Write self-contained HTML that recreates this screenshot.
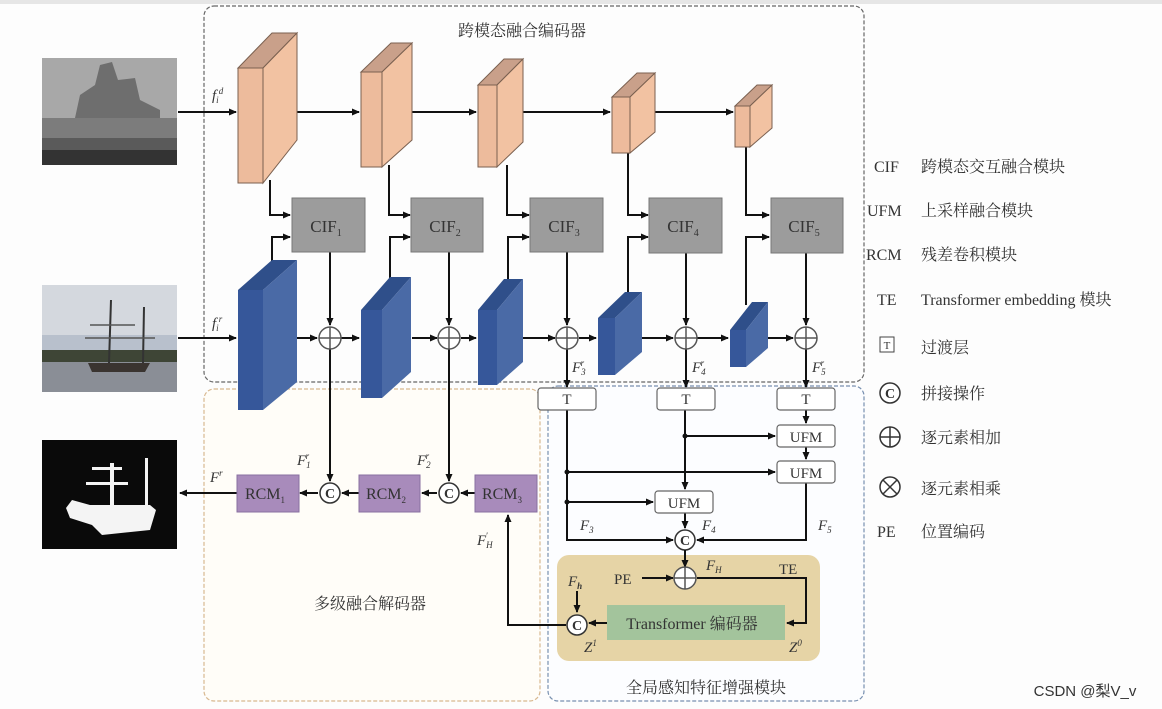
<!DOCTYPE html>
<html><head><meta charset="utf-8"><style>
html,body{margin:0;padding:0;background:#fdfdfd;}
svg{display:block;}
text{font-family:"Liberation Serif","Noto Serif CJK SC",serif;fill:#333;}
.cj{font-family:"Liberation Serif","Noto Serif CJK SC","Noto Sans CJK SC",serif;}
.it{font-style:italic;}
</style></head><body>
<svg width="1162" height="709" viewBox="0 0 1162 709" xmlns="http://www.w3.org/2000/svg">
<defs>
<marker id="a" markerWidth="8" markerHeight="8" refX="7" refY="4" orient="auto" markerUnits="userSpaceOnUse"><path d="M0,0.5 L8,4 L0,7.5 z" fill="#111"/></marker>
</defs>
<rect x="0" y="0" width="1162" height="4" fill="#e6e6e6"/>
<rect x="204" y="6" width="660" height="376" rx="10" fill="none" stroke="#666" stroke-dasharray="4,2" stroke-width="1.2"/>
<rect x="204" y="389" width="336" height="312" rx="10" fill="#fffdf8" stroke="#d8b890" stroke-dasharray="4,2" stroke-width="1.2"/>
<rect x="548" y="386" width="316" height="315" rx="10" fill="#fcfdff" stroke="#7890b0" stroke-dasharray="4,2" stroke-width="1.2"/>
<text x="522" y="36" font-size="16" text-anchor="middle" class="cj">跨模态融合编码器</text>
<text x="370" y="609" font-size="16" text-anchor="middle" class="cj">多级融合解码器</text>
<text x="706" y="693" font-size="16" text-anchor="middle" class="cj">全局感知特征增强模块</text>

<rect x="42" y="58" width="135" height="107" fill="#8c8c8c"/>
<rect x="42" y="58" width="135" height="60" fill="#a8a8a8"/>
<path d="M75,118 L80,95 L95,85 L100,65 L112,62 L118,80 L135,78 L140,100 L160,110 L160,118 Z" fill="#6e6e6e"/>
<rect x="42" y="118" width="135" height="20" fill="#7c7c7c"/>
<rect x="42" y="138" width="135" height="12" fill="#5a5a5a"/>
<rect x="42" y="150" width="135" height="15" fill="#333"/>
<rect x="42" y="285" width="135" height="107" fill="#b8c0cc"/>
<rect x="42" y="285" width="135" height="50" fill="#d4d8de"/>
<rect x="42" y="350" width="135" height="12" fill="#3e4536"/>
<rect x="42" y="362" width="135" height="30" fill="#8a8e96"/>
<path d="M88,363 L150,363 L145,372 L92,372 Z" fill="#3a3430"/>
<line x1="111" y1="300" x2="109" y2="363" stroke="#333" stroke-width="2"/>
<line x1="144" y1="307" x2="143" y2="363" stroke="#333" stroke-width="2"/>
<line x1="90" y1="325" x2="135" y2="325" stroke="#555" stroke-width="1.5"/>
<line x1="85" y1="338" x2="155" y2="338" stroke="#555" stroke-width="1.5"/>
<rect x="42" y="440" width="135" height="109" fill="#0a0a0a"/>
<path d="M66,508 L72,500 L90,505 L150,505 L156,510 L150,530 L102,535 L92,525 L70,518 Z" fill="#f4f4f4"/>
<rect x="110" y="463" width="4" height="45" fill="#f4f4f4"/>
<rect x="145" y="458" width="3" height="48" fill="#f4f4f4"/>
<rect x="86" y="482" width="42" height="3" fill="#f4f4f4"/>
<rect x="92" y="467" width="30" height="3" fill="#f4f4f4"/>

<g stroke="#111" stroke-width="2" fill="none">
<line x1="178" y1="112" x2="236" y2="112" marker-end="url(#a)"/>
<line x1="297" y1="112" x2="359" y2="112" marker-end="url(#a)"/>
<line x1="412" y1="112" x2="476" y2="112" marker-end="url(#a)"/>
<line x1="523" y1="112" x2="610" y2="112" marker-end="url(#a)"/>
<line x1="655" y1="112" x2="733" y2="112" marker-end="url(#a)"/>
<line x1="178" y1="338" x2="236" y2="338" marker-end="url(#a)"/>
<line x1="297" y1="338" x2="317" y2="338" marker-end="url(#a)"/>
<line x1="341" y1="338" x2="359" y2="338" marker-end="url(#a)"/>
<line x1="412" y1="338" x2="437" y2="338" marker-end="url(#a)"/>
<line x1="461" y1="338" x2="476" y2="338" marker-end="url(#a)"/>
<line x1="523" y1="338" x2="555" y2="338" marker-end="url(#a)"/>
<line x1="579" y1="338" x2="596" y2="338" marker-end="url(#a)"/>
<line x1="642" y1="338" x2="673" y2="338" marker-end="url(#a)"/>
<line x1="697" y1="338" x2="728" y2="338" marker-end="url(#a)"/>
<line x1="768" y1="338" x2="793" y2="338" marker-end="url(#a)"/>
<path d="M270,180 V215 H290" marker-end="url(#a)"/><path d="M272,262 V237 H290" marker-end="url(#a)"/>
<path d="M389,165 V215 H410" marker-end="url(#a)"/><path d="M390,282 V237 H410" marker-end="url(#a)"/>
<path d="M507,165 V215 H529" marker-end="url(#a)"/><path d="M508,285 V237 H529" marker-end="url(#a)"/>
<path d="M628,153 V215 H648" marker-end="url(#a)"/><path d="M628,296 V237 H648" marker-end="url(#a)"/>
<path d="M746,147 V215 H769" marker-end="url(#a)"/><path d="M746,305 V237 H769" marker-end="url(#a)"/>
<line x1="330" y1="252" x2="330" y2="325" marker-end="url(#a)"/>
<line x1="449" y1="252" x2="449" y2="325" marker-end="url(#a)"/>
<line x1="567" y1="252" x2="567" y2="325" marker-end="url(#a)"/>
<line x1="686" y1="253" x2="686" y2="325" marker-end="url(#a)"/>
<line x1="806" y1="253" x2="806" y2="325" marker-end="url(#a)"/>
<line x1="330" y1="349" x2="330" y2="481" marker-end="url(#a)"/>
<line x1="449" y1="349" x2="449" y2="481" marker-end="url(#a)"/>
<line x1="567" y1="349" x2="567" y2="387" marker-end="url(#a)"/>
<line x1="686" y1="349" x2="686" y2="387" marker-end="url(#a)"/>
<line x1="806" y1="349" x2="806" y2="387" marker-end="url(#a)"/>
<line x1="475" y1="493" x2="461" y2="493" marker-end="url(#a)"/>
<line x1="437" y1="493" x2="422" y2="493" marker-end="url(#a)"/>
<line x1="359" y1="493" x2="342" y2="493" marker-end="url(#a)"/>
<line x1="318" y1="493" x2="300" y2="493" marker-end="url(#a)"/>
<line x1="237" y1="493" x2="180" y2="493" marker-end="url(#a)"/>
<path d="M567,410 V540 H673" marker-end="url(#a)"/>
<line x1="567" y1="472" x2="775" y2="472" marker-end="url(#a)"/>
<line x1="567" y1="502" x2="653" y2="502" marker-end="url(#a)"/>
<line x1="685" y1="410" x2="685" y2="489" marker-end="url(#a)"/>
<line x1="685" y1="436" x2="775" y2="436" marker-end="url(#a)"/>
<line x1="806" y1="410" x2="806" y2="423" marker-end="url(#a)"/>
<line x1="806" y1="447" x2="806" y2="459" marker-end="url(#a)"/>
<path d="M806,483 V540 H697" marker-end="url(#a)"/>
<line x1="685" y1="513" x2="685" y2="528" marker-end="url(#a)"/>
</g>
<circle cx="567" cy="472" r="2.5" fill="#111"/><circle cx="567" cy="502" r="2.5" fill="#111"/><circle cx="685" cy="436" r="2.5" fill="#111"/>

<g stroke="#7a6050" stroke-width="1">
<polygon points="238,68 263,68 297,33 272,33" fill="#c9a08a"/>
<polygon points="263,68 297,33 297,140 263,183" fill="#f2c2a2"/>
<rect x="238" y="68" width="25" height="115" fill="#edbb9c"/>
<polygon points="361,72 382,72 412,43 391,43" fill="#c9a08a"/>
<polygon points="382,72 412,43 412,140 382,167" fill="#f2c2a2"/>
<rect x="361" y="72" width="21" height="95" fill="#edbb9c"/>
<polygon points="478,85 497,85 523,59 504,59" fill="#c9a08a"/>
<polygon points="497,85 523,59 523,142 497,167" fill="#f2c2a2"/>
<rect x="478" y="85" width="19" height="82" fill="#edbb9c"/>
<polygon points="612,97 630,97 655,73 637,73" fill="#c9a08a"/>
<polygon points="630,97 655,73 655,132 630,153" fill="#f2c2a2"/>
<rect x="612" y="97" width="18" height="56" fill="#edbb9c"/>
<polygon points="735,106 750,106 772,85 757,85" fill="#c9a08a"/>
<polygon points="750,106 772,85 772,128 750,147" fill="#f2c2a2"/>
<rect x="735" y="106" width="15" height="41" fill="#edbb9c"/>
</g>
<g>
<polygon points="238,290 263,290 297,260 272,260" fill="#2f4f8a"/>
<polygon points="263,290 297,260 297,382 263,410" fill="#4a6aa6"/>
<rect x="238" y="290" width="25" height="120" fill="#36579a"/>
<polygon points="361,310 382,310 411,277 390,277" fill="#2f4f8a"/>
<polygon points="382,310 411,277 411,372 382,398" fill="#4a6aa6"/>
<rect x="361" y="310" width="21" height="88" fill="#36579a"/>
<polygon points="478,310 497,310 523,279 504,279" fill="#2f4f8a"/>
<polygon points="497,310 523,279 523,362 497,385" fill="#4a6aa6"/>
<rect x="478" y="310" width="19" height="75" fill="#36579a"/>
<polygon points="598,318 615,318 642,292 625,292" fill="#2f4f8a"/>
<polygon points="615,318 642,292 642,352 615,375" fill="#4a6aa6"/>
<rect x="598" y="318" width="17" height="57" fill="#36579a"/>
<polygon points="730,330 746,330 768,302 752,302" fill="#2f4f8a"/>
<polygon points="746,330 768,302 768,348 746,367" fill="#4a6aa6"/>
<rect x="730" y="330" width="16" height="37" fill="#36579a"/>
</g>

<g fill="#9c9c9c" stroke="#777">
<rect x="292" y="198" width="73" height="54"/>
<rect x="411" y="198" width="72" height="54"/>
<rect x="530" y="198" width="73" height="54"/>
<rect x="649" y="198" width="73" height="55"/>
<rect x="771" y="198" width="72" height="55"/>
</g>
<g font-size="17" text-anchor="middle">
<text x="326" y="232">CIF<tspan font-size="10" dy="4">1</tspan></text>
<text x="445" y="232">CIF<tspan font-size="10" dy="4">2</tspan></text>
<text x="564" y="232">CIF<tspan font-size="10" dy="4">3</tspan></text>
<text x="683" y="232">CIF<tspan font-size="10" dy="4">4</tspan></text>
<text x="804" y="232">CIF<tspan font-size="10" dy="4">5</tspan></text>
</g>

<g fill="#fff" stroke="#555" stroke-width="1.5">
<circle cx="330" cy="338" r="11"/><circle cx="449" cy="338" r="11"/><circle cx="567" cy="338" r="11"/><circle cx="686" cy="338" r="11"/><circle cx="806" cy="338" r="11"/>
</g>
<g stroke="#555" stroke-width="1.5">
<path d="M319,338 H341 M330,327 V349"/><path d="M438,338 H460 M449,327 V349"/><path d="M556,338 H578 M567,327 V349"/><path d="M675,338 H697 M686,327 V349"/><path d="M795,338 H817 M806,327 V349"/>
</g>

<g font-size="15" class="it">
<text x="212" y="100">f<tspan font-size="9" dy="3">i</tspan><tspan font-size="9" dy="-9">d</tspan></text>
<text x="212" y="328">f<tspan font-size="9" dy="3">i</tspan><tspan font-size="9" dy="-9">r</tspan></text>
<text x="572" y="372">F<tspan font-size="9" dy="3">3</tspan><tspan font-size="9" dx="-5" dy="-9">r</tspan></text>
<text x="692" y="372">F<tspan font-size="9" dy="3">4</tspan><tspan font-size="9" dx="-5" dy="-9">r</tspan></text>
<text x="812" y="372">F<tspan font-size="9" dy="3">5</tspan><tspan font-size="9" dx="-5" dy="-9">r</tspan></text>
<text x="297" y="465">F<tspan font-size="9" dy="3">1</tspan><tspan font-size="9" dx="-5" dy="-9">r</tspan></text>
<text x="417" y="465">F<tspan font-size="9" dy="3">2</tspan><tspan font-size="9" dx="-5" dy="-9">r</tspan></text>
<text x="210" y="482">F<tspan font-size="9" dy="-6">r</tspan></text>
<text x="477" y="545">F<tspan font-size="9" dy="3">H</tspan><tspan font-size="9" dx="-7" dy="-9">′</tspan></text>
<text x="580" y="530">F<tspan font-size="9" dy="3">3</tspan></text>
<text x="702" y="530">F<tspan font-size="9" dy="3">4</tspan></text>
<text x="818" y="530">F<tspan font-size="9" dy="3">5</tspan></text>
</g>

<g fill="#a88bbb" stroke="#8870a0">
<rect x="237" y="475" width="62" height="37"/><rect x="359" y="475" width="61" height="37"/><rect x="475" y="475" width="62" height="37"/>
</g>
<g font-size="16" text-anchor="middle" fill="#333">
<text x="265" y="499">RCM<tspan font-size="9" dy="4">1</tspan></text>
<text x="386" y="499">RCM<tspan font-size="9" dy="4">2</tspan></text>
<text x="502" y="499">RCM<tspan font-size="9" dy="4">3</tspan></text>
</g>
<g fill="#fff" stroke="#333" stroke-width="1.5"><circle cx="330" cy="493" r="10"/><circle cx="449" cy="493" r="10"/></g>
<g font-size="14" font-weight="bold" text-anchor="middle"><text x="330" y="498">C</text><text x="449" y="498">C</text></g>

<g fill="#fff" stroke="#666" stroke-width="1.2">
<rect x="538" y="388" width="58" height="22" rx="3"/><rect x="657" y="388" width="58" height="22" rx="3"/><rect x="777" y="388" width="58" height="22" rx="3"/>
<rect x="777" y="425" width="58" height="22" rx="3"/><rect x="777" y="461" width="58" height="22" rx="3"/><rect x="655" y="491" width="58" height="22" rx="3"/>
</g>
<g font-size="15" text-anchor="middle">
<text x="567" y="404">T</text><text x="686" y="404">T</text><text x="806" y="404">T</text>
<text x="806" y="442">UFM</text><text x="806" y="478">UFM</text><text x="684" y="508">UFM</text>
</g>
<circle cx="685" cy="540" r="10" fill="#fff" stroke="#333" stroke-width="1.5"/>
<text x="685" y="545" font-size="14" font-weight="bold" text-anchor="middle">C</text>

<rect x="557" y="555" width="263" height="106" rx="12" fill="#e6d4a6"/>
<rect x="607" y="605" width="178" height="35" fill="#a3c49c"/>
<text x="692" y="629" font-size="16" text-anchor="middle" class="cj">Transformer 编码器</text>
<g stroke="#111" stroke-width="2" fill="none">
<line x1="685" y1="550" x2="685" y2="567" marker-end="url(#a)"/>
<line x1="642" y1="578" x2="673" y2="578" marker-end="url(#a)"/>
<path d="M697,578 H806 V623 H787" marker-end="url(#a)"/>
<line x1="607" y1="623" x2="589" y2="623" marker-end="url(#a)"/>
<line x1="577" y1="591" x2="577" y2="612" marker-end="url(#a)"/>
<path d="M566,625 H508 V515" marker-end="url(#a)"/>
</g>
<circle cx="685" cy="578" r="11" fill="#fff" stroke="#555" stroke-width="1.5"/>
<path d="M674,578 H696 M685,567 V589" stroke="#555" stroke-width="1.5"/>
<circle cx="577" cy="625" r="10" fill="#fff" stroke="#333" stroke-width="1.5"/>
<text x="577" y="630" font-size="14" font-weight="bold" text-anchor="middle">C</text>
<text x="614" y="584" font-size="15">PE</text>
<text x="779" y="574" font-size="15">TE</text>
<g font-size="15" class="it">
<text x="706" y="570">F<tspan font-size="9" dy="3">H</tspan></text>
<text x="568" y="586">F<tspan font-size="9" dy="3" font-weight="bold">h</tspan></text>
<text x="584" y="652">Z<tspan font-size="9" dy="-6">1</tspan></text>
<text x="789" y="652">Z<tspan font-size="9" dy="-6">0</tspan></text>
</g>

<g font-size="16" class="cj">
<text x="874" y="172">CIF</text><text x="921" y="172">跨模态交互融合模块</text>
<text x="867" y="216">UFM</text><text x="921" y="216">上采样融合模块</text>
<text x="866" y="260">RCM</text><text x="921" y="260">残差卷积模块</text>
<text x="877" y="305">TE</text><text x="921" y="305">Transformer embedding 模块</text>
<text x="921" y="353">过渡层</text>
<text x="921" y="399">拼接操作</text>
<text x="921" y="443">逐元素相加</text>
<text x="921" y="494">逐元素相乘</text>
<text x="877" y="537">PE</text><text x="921" y="537">位置编码</text>
</g>
<rect x="880" y="337" width="14" height="15" fill="#fff" stroke="#444"/>
<text x="887" y="349" font-size="11" text-anchor="middle">T</text>
<circle cx="890" cy="393" r="10" fill="#fff" stroke="#333" stroke-width="1.5"/>
<text x="890" y="398" font-size="14" font-weight="bold" text-anchor="middle">C</text>
<circle cx="890" cy="437" r="10" fill="#fff" stroke="#333" stroke-width="1.5"/>
<path d="M880,437 H900 M890,427 V447" stroke="#333" stroke-width="1.5"/>
<circle cx="890" cy="487" r="10" fill="#fff" stroke="#333" stroke-width="1.5"/>
<path d="M883,480 L897,494 M897,480 L883,494" stroke="#333" stroke-width="1.5"/>
<text x="1085" y="696" font-size="15" text-anchor="middle" style="font-family:'Liberation Sans','Noto Sans CJK SC',sans-serif" fill="#777">CSDN @梨V_v</text>
</svg>
</body></html>
